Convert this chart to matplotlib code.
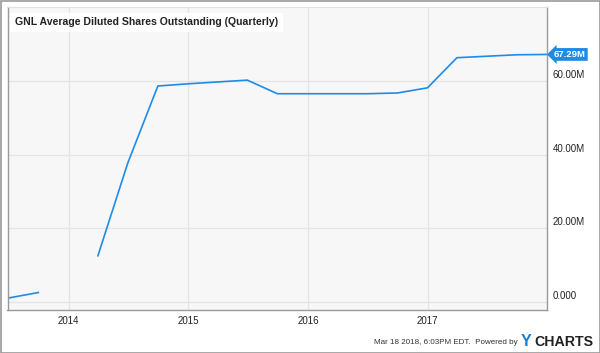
import matplotlib
matplotlib.use("Agg")
import matplotlib.pyplot as plt
import matplotlib.dates as mdates
import matplotlib.transforms as mtransforms
import numpy as np
import pandas as pd

plt.rcParams['font.family'] = ['Liberation Sans', 'DejaVu Sans']

dates = ["2013-06-30", "2013-09-30", "2013-12-31", "2014-03-31", "2014-06-30",
         "2014-09-30", "2014-12-31", "2015-03-31", "2015-06-30", "2015-09-30",
         "2015-12-31", "2016-03-31", "2016-06-30", "2016-09-30", "2016-12-31",
         "2017-03-31", "2017-06-30", "2017-09-30", "2017-12-31"]
shares_m = [1.0, 2.5, np.nan, 12.5, 37.7,
            58.7, 59.3, 59.8, 60.3, 56.6,
            56.6, 56.6, 56.6, 56.8, 58.2,
            66.4, 66.8, 67.2, 67.29]
ytick_vals = [0, 20, 40, 60]
ytick_labels = ["0.000", "20.00M", "40.00M", "60.00M"]
xtick_dates = ["2014-01-01", "2015-01-01", "2016-01-01", "2017-01-01"]
xtick_labels = ["2014", "2015", "2016", "2017"]
title = "GNL Average Diluted Shares Outstanding (Quarterly)"
last_label = "67.29M"

line_color = "#1f8be8"

W, H = 600, 353
fig = plt.figure(figsize=(6.0, 3.53), dpi=100)
fig.patch.set_facecolor("white")

ax = fig.add_axes([7.5 / W, 1 - 310 / H, (547 - 7.5) / W, (310 - 7) / H])
ax.set_facecolor("#f7f7f7")

x = pd.to_datetime(dates)
xt = pd.to_datetime(xtick_dates)
ax.plot(x, shares_m, color=line_color, lw=1.2, solid_joinstyle="miter")

ax.set_xlim(pd.Timestamp("2013-06-28"), pd.Timestamp("2017-12-31"))
ax.set_ylim(-2.25, 80.2)

ax.set_xticks(xt)
ax.set_xticklabels(xtick_labels, fontsize=7, color="#222222")
ax.set_yticks(ytick_vals)
ax.set_yticklabels(ytick_labels, fontsize=7, color="#222222")
ax.yaxis.tick_right()
ax.tick_params(axis="both", length=0)
ax.tick_params(axis="x", pad=4)
ax.tick_params(axis="y", pad=4)
offset = mtransforms.ScaledTranslation(0, 7 / 100, fig.dpi_scale_trans)
for lab in ax.get_yticklabels():
    lab.set_transform(lab.get_transform() + offset)
    lab.set_horizontalalignment("left")

ax.grid(True, color="#e4e4e4", lw=0.9)
ax.set_axisbelow(True)
for s in ["left", "bottom", "right"]:
    ax.spines[s].set_color("#9a9a9a")
    ax.spines[s].set_linewidth(1.0)
ax.spines["top"].set_color("#e0e0e0")

# title with white box
ax.text(0.014, 0.966, title, transform=ax.transAxes, fontsize=7.6,
        fontweight="bold", color="#222222", ha="left", va="top",
        bbox=dict(boxstyle="square,pad=0.45", fc="white", ec="none"))

# last value label
ax.annotate(last_label, xy=(1.0, shares_m[-1]), xycoords=("axes fraction", "data"),
            xytext=(5, 0), textcoords="offset points", fontsize=6.8,
            fontweight="bold", color="white", ha="left", va="center",
            bbox=dict(boxstyle="larrow,pad=0.2", fc=line_color, ec="none"),
            annotation_clip=False)

# outer border
fig.add_artist(plt.Rectangle((0.5 / W, 0.5 / H), 1 - 1 / W, 1 - 1 / H,
                             transform=fig.transFigure, fill=False,
                             ec="#9a9a9a", lw=1.2))

# footer
fig.text(518 / W, 1 - 343 / H, "Mar 18 2018, 6:03PM EDT.  Powered by",
         fontsize=5.8, color="#333333", ha="right", va="center")
fig.text(521 / W, 1 - 341.5 / H, "Y", fontsize=11.5, fontweight="bold",
         color="#1a7fd4", ha="left", va="center")
fig.text(534 / W, 1 - 341.5 / H, "CHARTS", fontsize=10.2, fontweight="bold",
         color="#222222", ha="left", va="center")

fig.savefig("out.png", dpi=100, facecolor="white")
